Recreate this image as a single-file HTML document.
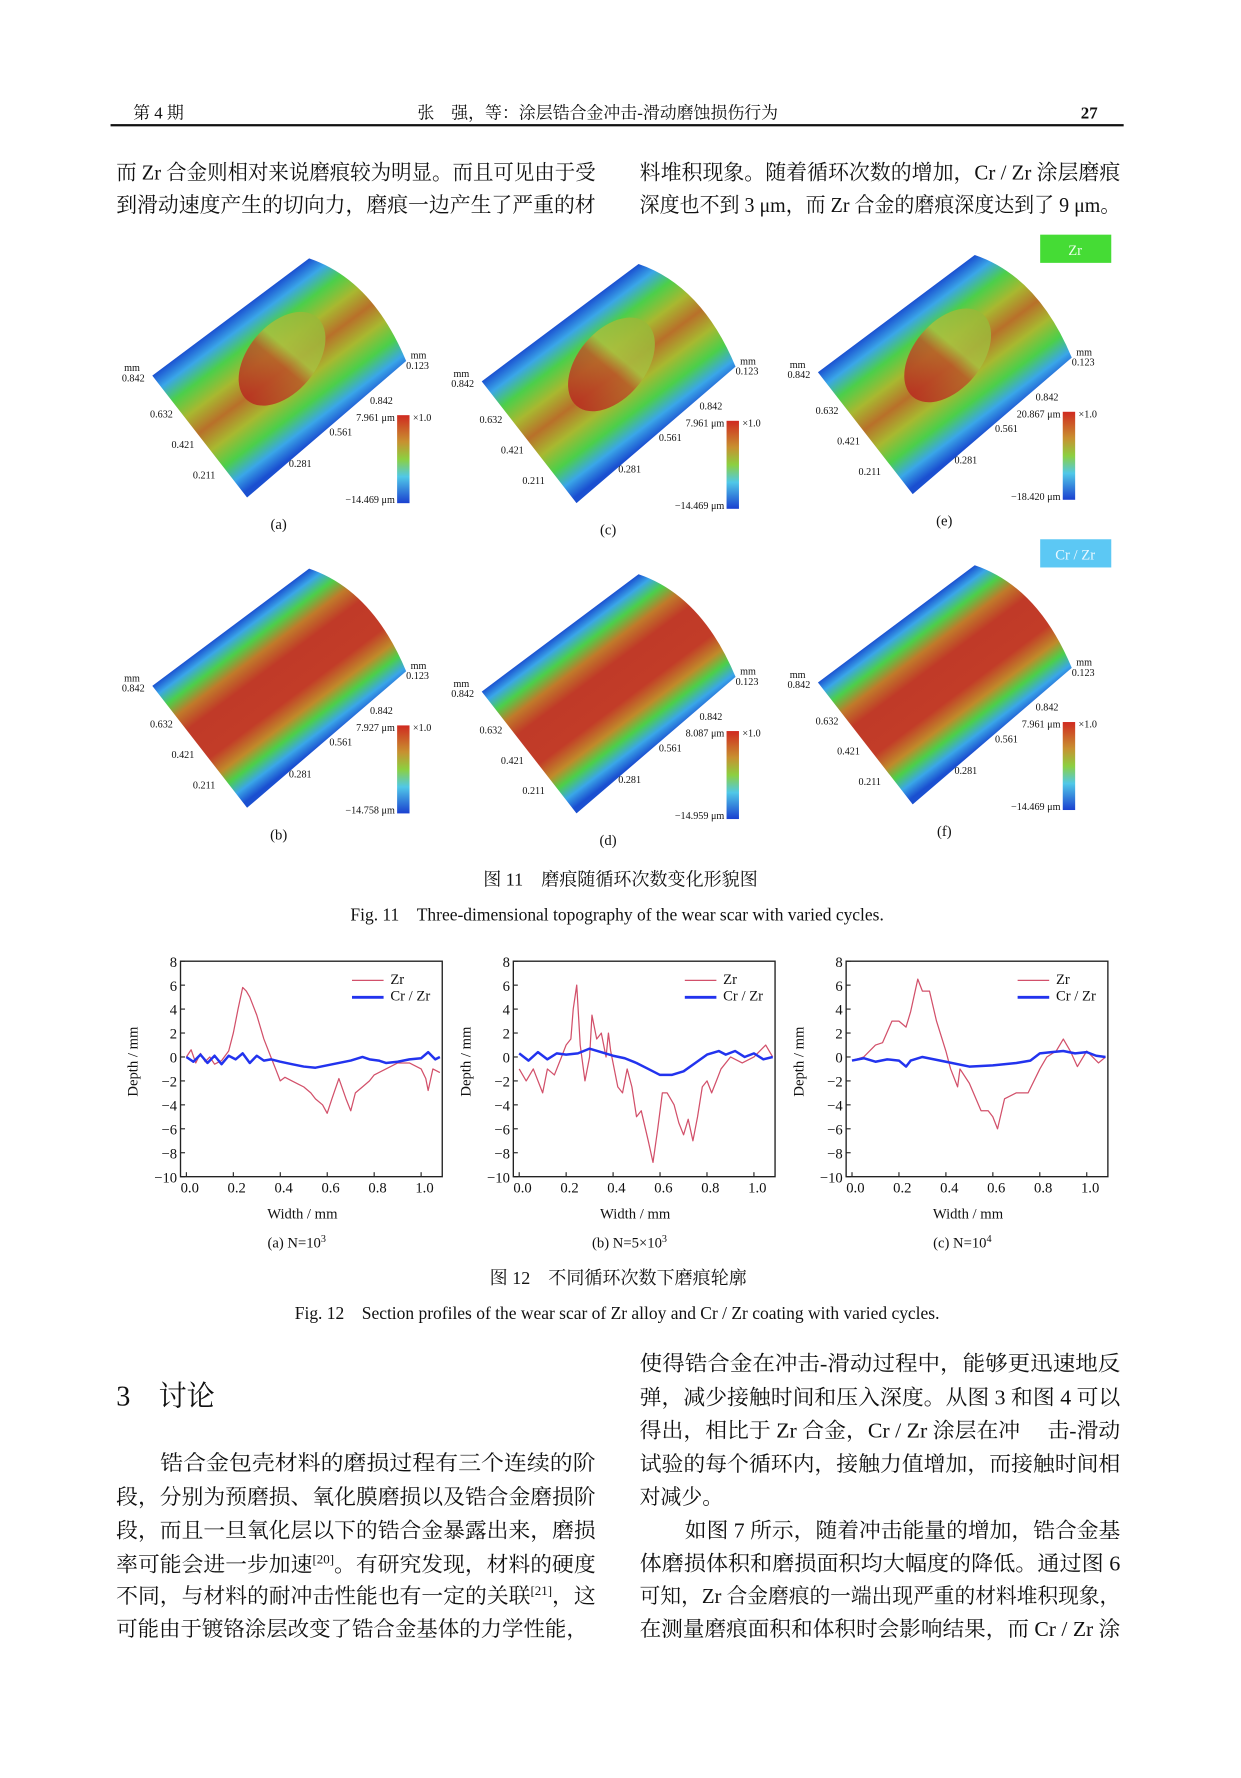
<!DOCTYPE html>
<html><head><meta charset="utf-8"><style>
html,body{margin:0;padding:0;background:#fff;}
svg{display:block;}
text{font-family:"Liberation Serif","Noto Serif CJK SC",serif;fill:#111;}
</style></head><body>
<svg id="page" width="1241" height="1778" viewBox="0 0 1100 1576" preserveAspectRatio="none" xmlns="http://www.w3.org/2000/svg">
<defs>
<linearGradient id="gTop" gradientUnits="userSpaceOnUse" x1="204" y1="281" x2="283" y2="387">
<stop offset="0" stop-color="#1a4fd0"/><stop offset="0.1" stop-color="#3aa6e8"/><stop offset="0.22" stop-color="#4ccf4a"/><stop offset="0.36" stop-color="#a8b830"/><stop offset="0.5" stop-color="#b8702a"/><stop offset="0.64" stop-color="#a8b830"/><stop offset="0.78" stop-color="#4ccf4a"/><stop offset="0.9" stop-color="#3aa6e8"/><stop offset="1" stop-color="#1a4fd0"/>
</linearGradient>
<linearGradient id="gBot" gradientUnits="userSpaceOnUse" x1="204" y1="281" x2="283" y2="387">
<stop offset="0" stop-color="#1a4fd0"/><stop offset="0.07" stop-color="#3aa6e8"/><stop offset="0.16" stop-color="#4ccf4a"/><stop offset="0.26" stop-color="#c07a2a"/><stop offset="0.38" stop-color="#c03a28"/><stop offset="0.62" stop-color="#c23c28"/><stop offset="0.74" stop-color="#c08a2a"/><stop offset="0.83" stop-color="#4ccf4a"/><stop offset="0.92" stop-color="#3aa6e8"/><stop offset="1" stop-color="#1a4fd0"/>
</linearGradient>
<linearGradient id="gBar" x1="0" y1="0" x2="0" y2="1">
<stop offset="0" stop-color="#d02a20"/><stop offset="0.3" stop-color="#c89030"/><stop offset="0.5" stop-color="#8cd040"/><stop offset="0.7" stop-color="#50c8e8"/><stop offset="1" stop-color="#1a40d0"/>
</linearGradient>
<linearGradient id="gScar" x1="0" y1="0" x2="1" y2="0">
<stop offset="0" stop-color="#b82a20"/><stop offset="0.45" stop-color="#b85a28"/><stop offset="0.6" stop-color="#a8c040"/><stop offset="1" stop-color="#98b838"/>
</linearGradient>
</defs>

<g>
<text x="118" y="105" font-size="15">第 4 期</text>
<text x="370" y="105" font-size="15">张　强，等：涂层锆合金冲击-滑动磨蚀损伤行为</text>
<text x="958" y="105" font-size="15" font-weight="bold">27</text>
<rect x="98" y="110" width="898" height="2" fill="#111"/>
</g>

<g font-size="18.5">
<text x="103" y="159" textLength="425" lengthAdjust="spacingAndGlyphs">而 Zr 合金则相对来说磨痕较为明显。而且可见由于受</text>
<text x="103" y="188" textLength="425" lengthAdjust="spacingAndGlyphs">到滑动速度产生的切向力，磨痕一边产生了严重的材</text>
<text x="567" y="159" textLength="426" lengthAdjust="spacingAndGlyphs">料堆积现象。随着循环次数的增加，Cr / Zr 涂层磨痕</text>
<text x="567" y="188" textLength="426" lengthAdjust="spacingAndGlyphs">深度也不到 3 μm，而 Zr 合金的磨痕深度达到了 9 μm。</text>
</g>

<g id="fig11"></g>
<rect x="922" y="208" width="63" height="25" fill="#45dc35"/>
<text x="953" y="226" font-size="13" text-anchor="middle" style="fill:#eaffea">Zr</text>
<rect x="922" y="478" width="63" height="25" fill="#5cc8f4"/>
<text x="953" y="496" font-size="13" text-anchor="middle" style="fill:#eaf8ff">Cr / Zr</text>

<text x="550" y="785" font-size="16" text-anchor="middle">图 11　磨痕随循环次数变化形貌图</text>
<text x="547" y="816" font-size="15.5" text-anchor="middle">Fig. 11　Three-dimensional topography of the wear scar with varied cycles.</text>

<g id="fig12"></g>

<text x="548" y="1138" font-size="16" text-anchor="middle">图 12　不同循环次数下磨痕轮廓</text>
<text x="547" y="1169" font-size="15.5" text-anchor="middle">Fig. 12　Section profiles of the wear scar of Zr alloy and Cr / Zr coating with varied cycles.</text>

<text x="103" y="1246" font-size="25">3　讨论</text>

<g font-size="18.5">
<text x="142" y="1303" textLength="386" lengthAdjust="spacingAndGlyphs">锆合金包壳材料的磨损过程有三个连续的阶</text>
<text x="103" y="1333" textLength="425" lengthAdjust="spacingAndGlyphs">段，分别为预磨损、氧化膜磨损以及锆合金磨损阶</text>
<text x="103" y="1363" textLength="425" lengthAdjust="spacingAndGlyphs">段，而且一旦氧化层以下的锆合金暴露出来，磨损</text>
<text x="103" y="1393" textLength="425" lengthAdjust="spacingAndGlyphs">率可能会进一步加速<tspan font-size="11" dy="-7">[20]</tspan><tspan dy="7">。有研究发现，材料的硬度</tspan></text>
<text x="103" y="1421" textLength="425" lengthAdjust="spacingAndGlyphs">不同，与材料的耐冲击性能也有一定的关联<tspan font-size="11" dy="-7">[21]</tspan><tspan dy="7">，这</tspan></text>
<text x="103" y="1450" textLength="418" lengthAdjust="spacingAndGlyphs">可能由于镀铬涂层改变了锆合金基体的力学性能，</text>
</g>
<g font-size="18.5">
<text x="567" y="1215" textLength="426" lengthAdjust="spacingAndGlyphs">使得锆合金在冲击-滑动过程中，能够更迅速地反</text>
<text x="567" y="1245" textLength="426" lengthAdjust="spacingAndGlyphs">弹，减少接触时间和压入深度。从图 3 和图 4 可以</text>
<text x="567" y="1274" textLength="426" lengthAdjust="spacingAndGlyphs">得出，相比于 Zr 合金，Cr / Zr 涂层在冲　 击-滑动</text>
<text x="567" y="1304" textLength="426" lengthAdjust="spacingAndGlyphs">试验的每个循环内，接触力值增加，而接触时间相</text>
<text x="567" y="1333">对减少。</text>
<text x="607" y="1363" textLength="386" lengthAdjust="spacingAndGlyphs">如图 7 所示，随着冲击能量的增加，锆合金基</text>
<text x="567" y="1392" textLength="426" lengthAdjust="spacingAndGlyphs">体磨损体积和磨损面积均大幅度的降低。通过图 6</text>
<text x="567" y="1421" textLength="426" lengthAdjust="spacingAndGlyphs">可知，Zr 合金磨痕的一端出现严重的材料堆积现象，</text>
<text x="567" y="1450" textLength="426" lengthAdjust="spacingAndGlyphs">在测量磨痕面积和体积时会影响结果，而 Cr / Zr 涂</text>
</g>
</svg>
<script>
// ---- Figure 12 data ----
const xTicks = [0.0, 0.2, 0.4, 0.6, 0.8, 1.0];
const yTicks = [8, 6, 4, 2, 0, -2, -4, -6, -8, -10];
const panelCaptions = ["(a) N=10", "(b) N=5×10", "(c) N=10"];
const panelSup = ["3", "3", "4"];
const zrXA = [0,0.02,0.04,0.06,0.08,0.1,0.12,0.15,0.18,0.2,0.22,0.24,0.255,0.27,0.3,0.33,0.36,0.38,0.4,0.42,0.45,0.48,0.5,0.53,0.55,0.58,0.6,0.62,0.65,0.68,0.7,0.72,0.75,0.78,0.8,0.85,0.9,0.95,1.0,1.02,1.03,1.05,1.08];
const zrYA = [0,0.6,-0.5,0.3,-0.4,0,-0.6,-0.3,0.5,2,4,5.8,5.5,5,3.5,1.5,0,-1,-2,-1.7,-2,-2.3,-2.5,-3,-3.5,-4,-4.7,-3.5,-1.8,-3.5,-4.5,-3,-2.5,-2,-1.5,-1,-0.5,-0.5,-1,-1.8,-2.8,-1,-1.3];
const crXA = [0,0.03,0.06,0.09,0.12,0.15,0.18,0.21,0.24,0.27,0.3,0.33,0.36,0.4,0.45,0.5,0.55,0.6,0.65,0.7,0.75,0.78,0.82,0.85,0.9,0.95,1.0,1.03,1.06,1.08];
const crYA = [0,-0.4,0.2,-0.5,0.1,-0.6,0.1,-0.2,0.3,-0.5,0.1,-0.3,-0.2,-0.4,-0.6,-0.8,-0.9,-0.7,-0.5,-0.3,0,-0.2,-0.3,-0.5,-0.4,-0.2,-0.1,0.4,-0.2,0];
const zrXB = [0,0.03,0.06,0.1,0.12,0.15,0.18,0.2,0.22,0.23,0.245,0.26,0.28,0.3,0.31,0.33,0.35,0.37,0.38,0.39,0.42,0.44,0.46,0.48,0.5,0.52,0.55,0.57,0.59,0.61,0.63,0.66,0.68,0.7,0.72,0.74,0.76,0.78,0.8,0.82,0.84,0.86,0.9,0.95,1.0,1.05,1.08];
const zrYB = [-1,-2,-1,-3,-1,-1.5,0,1,1.5,4,6,1,-2,0,3.5,1.5,2,0,2,0.5,-2.5,-3,-1,-2.5,-5,-4.5,-7,-8.8,-6,-3,-3,-4,-5.5,-6.5,-5.2,-7,-5,-2.5,-2,-3,-2,-1,0,-0.5,0,1,0];
const crXB = [0,0.04,0.08,0.12,0.16,0.2,0.25,0.3,0.35,0.4,0.45,0.5,0.55,0.6,0.65,0.7,0.75,0.8,0.85,0.88,0.92,0.96,1.0,1.04,1.08];
const crYB = [0.3,-0.3,0.4,-0.2,0.3,0.2,0.3,0.7,0.4,0.1,-0.1,-0.5,-1,-1.5,-1.5,-1.2,-0.5,0.2,0.5,0.2,0.5,0,0.3,-0.2,0];
const zrXC = [0,0.05,0.1,0.13,0.17,0.2,0.23,0.25,0.28,0.3,0.33,0.36,0.4,0.42,0.45,0.46,0.5,0.55,0.58,0.6,0.62,0.65,0.7,0.75,0.8,0.83,0.87,0.9,0.93,0.96,1.0,1.05,1.08];
const zrYC = [-0.3,0,1,1.2,3,3,2.5,3.8,6.5,5.5,5.5,3,0.5,-1,-2.5,-1,-2.2,-4.5,-4.5,-5,-6,-3.5,-3,-3,-1,0,0.5,1.5,0.5,-0.8,0.5,-0.5,0];
const crXC = [0,0.05,0.1,0.15,0.2,0.23,0.25,0.3,0.35,0.4,0.5,0.6,0.7,0.76,0.8,0.85,0.9,0.95,1.0,1.04,1.08];
const crYC = [-0.3,-0.1,-0.4,-0.2,-0.3,-0.8,-0.3,0,-0.2,-0.4,-0.8,-0.7,-0.5,-0.3,0.3,0.4,0.5,0.3,0.4,0.1,0];

// ---- Figure 11 data ----
const fig11Labels = ["(a)", "(c)", "(e)", "(b)", "(d)", "(f)"];
const fig11Max = ["7.961 μm", "7.961 μm", "20.867 μm", "7.927 μm", "8.087 μm", "7.961 μm"];
const fig11Min = ["−14.469 μm", "−14.469 μm", "−18.420 μm", "−14.758 μm", "−14.959 μm", "−14.469 μm"];
const axisLabels = ["0.632", "0.421", "0.211"];
const axisLabels2 = ["0.842", "0.561", "0.281"];

const NS = "http://www.w3.org/2000/svg";
function mk(tag, attrs, parent) {
  const e = document.createElementNS(NS, tag);
  for (const k in attrs) e.setAttribute(k, attrs[k]);
  parent.appendChild(e);
  return e;
}

const f11 = document.getElementById("fig11");
const offs = [[0,0],[292,5],[590,-3],[0,275],[292,280],[590,272]];
offs.forEach(function(o, i) {
  const g = mk("g", {transform: "translate(" + o[0] + "," + o[1] + ")"}, f11);
  
  
  const top = i < 3;
  const s = mk("path", {d: "M135,333 L274,229 Q330,248 360,320 L219,441 Z", fill: top ? "url(#gTop)" : "url(#gBot)"}, g);
  
  
  if (top) {
    const sc = mk("ellipse", {cx: 250, cy: 318, rx: 48, ry: 30, transform: "rotate(-50 250 318)", fill: "url(#gScar)", opacity: 0.85}, g);
    
    
  }
  const fs = 9;
  mk("text", {x: 110, y: 329, "font-size": fs}, g).textContent = "mm";
  mk("text", {x: 108, y: 338, "font-size": fs}, g).textContent = "0.842";
  axisLabels.forEach(function(t, k) {
    mk("text", {x: 133 + k * 19, y: 370 + k * 27, "font-size": fs}, g).textContent = t;
  });
  axisLabels2.forEach(function(t, k) {
    mk("text", {x: 328 - k * 36, y: 358 + k * 28, "font-size": fs}, g).textContent = t;
  });
  mk("text", {x: 364, y: 318, "font-size": fs}, g).textContent = "mm";
  mk("text", {x: 360, y: 327, "font-size": fs}, g).textContent = "0.123";
  const bar = mk("rect", {x: 352, y: 368, width: 11, height: 78, fill: "url(#gBar)"}, g);
  
  
  mk("text", {x: 350, y: 373, "font-size": fs, "text-anchor": "end"}, g).textContent = fig11Max[i];
  mk("text", {x: 366, y: 373, "font-size": fs}, g).textContent = "×1.0";
  mk("text", {x: 350, y: 446, "font-size": fs, "text-anchor": "end"}, g).textContent = fig11Min[i];
  mk("text", {x: 247, y: 469, "font-size": 13, "text-anchor": "middle"}, g).textContent = fig11Labels[i];
});

const f12 = document.getElementById("fig12");
const frames = [160, 455, 750];
const FW = 232, FT = 852, FB = 1043;
const XMIN = -0.025, XMAX = 1.09, YMIN = -10, YMAX = 8;
const series = [[zrXA, zrYA, crXA, crYA], [zrXB, zrYB, crXB, crYB], [zrXC, zrYC, crXC, crYC]];
frames.forEach(function(fx, p) {
  const xs = function(v) { return fx + (v - XMIN) / (XMAX - XMIN) * FW; };
  const ys = function(v) { return FB - (v - YMIN) / (YMAX - YMIN) * (FB - FT); };
  const g = mk("g", {}, f12);
  
  
  const fr = mk("rect", {x: fx, y: FT, width: FW, height: FB - FT, fill: "none", stroke: "#222", "stroke-width": 1.2}, g);
  
  
  yTicks.forEach(function(t) {
    mk("line", {x1: fx, x2: fx + 4, y1: ys(t), y2: ys(t), stroke: "#222"}, g);
    const tl = mk("text", {x: fx - 3, y: ys(t) + 5, "font-size": 13, "text-anchor": "end"}, g);
    tl.textContent = t < 0 ? "−" + (-t) : String(t);
    
    
  });
  xTicks.forEach(function(t) {
    mk("line", {x1: xs(t), x2: xs(t), y1: FB, y2: FB - 4, stroke: "#222"}, g);
    const tl = mk("text", {x: xs(t) + 3, y: FB + 14, "font-size": 13, "text-anchor": "middle"}, g);
    tl.textContent = t.toFixed(1);
    
    
  });
  const s = series[p];
  function line(X, Y, col, w, name) {
    let d = "";
    X.forEach(function(x, k) { d += (k ? "L" : "M") + xs(x).toFixed(1) + "," + ys(Y[k]).toFixed(1); });
    const l = mk("path", {d: d, fill: "none", stroke: col, "stroke-width": w, "stroke-linejoin": "round"}, g);
    
    
  }
  line(s[0], s[1], "#d2506a", 1.1, "zr-line");
  line(s[2], s[3], "#2233ee", 2.2, "crzr-line");
  mk("line", {x1: fx + 152, x2: fx + 180, y1: 869, y2: 869, stroke: "#d2506a", "stroke-width": 1.2}, g);
  mk("text", {x: fx + 186, y: 872, "font-size": 13}, g).textContent = "Zr";
  mk("line", {x1: fx + 152, x2: fx + 180, y1: 884, y2: 884, stroke: "#2233ee", "stroke-width": 2.5}, g);
  mk("text", {x: fx + 186, y: 887, "font-size": 13}, g).textContent = "Cr / Zr";
  const yl = mk("text", {x: 0, y: 0, "font-size": 13, "text-anchor": "middle", transform: "translate(" + (fx - 38) + "," + 941 + ") rotate(-90)"}, g);
  yl.textContent = "Depth / mm";
  
  
  const xl = mk("text", {x: fx + 108, y: 1080, "font-size": 13, "text-anchor": "middle"}, g);
  xl.textContent = "Width / mm";
  
  
  const cap = mk("text", {x: fx + 103, y: 1106, "font-size": 13, "text-anchor": "middle"}, g);
  cap.textContent = panelCaptions[p];
  const sup = mk("tspan", {"font-size": 9, dy: -5}, cap);
  sup.textContent = panelSup[p];
  
  
});
</script>
</body></html>
